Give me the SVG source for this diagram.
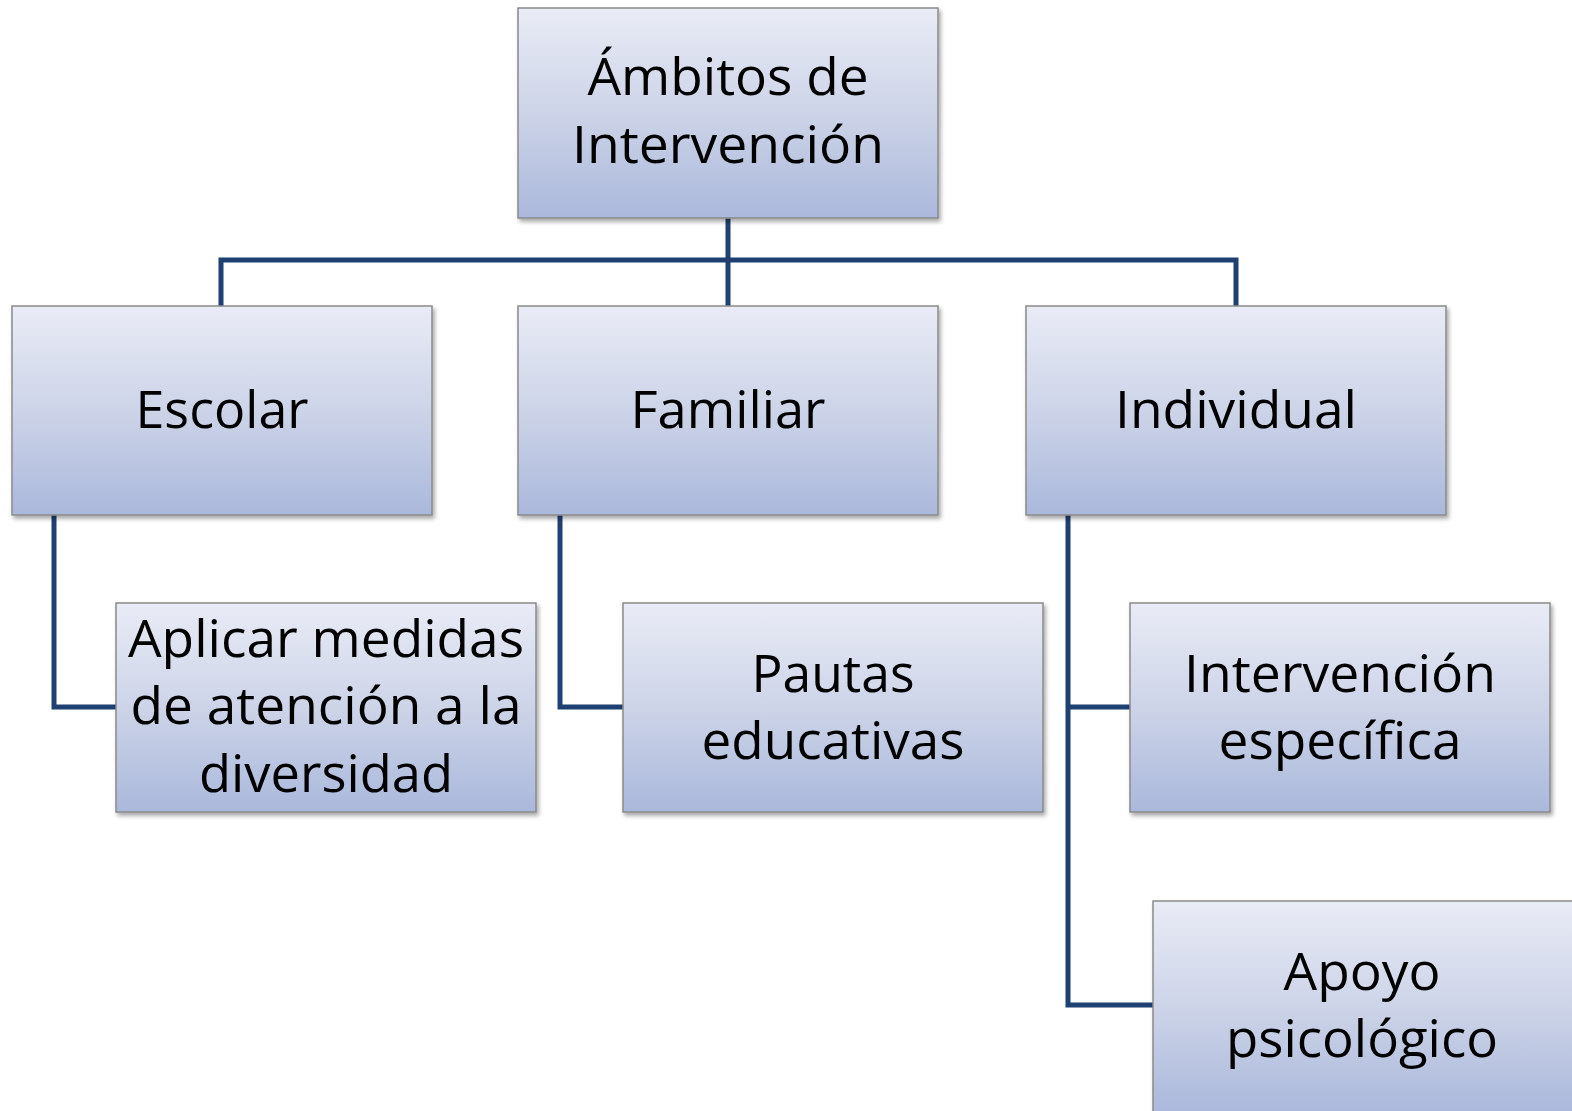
<svg xmlns="http://www.w3.org/2000/svg" width="1572" height="1111" viewBox="0 0 1572 1111">
<defs>
<linearGradient id="g" x1="0" y1="0" x2="0" y2="1">
<stop offset="0" stop-color="#E9ECF6"/>
<stop offset="0.5" stop-color="#CDD4E8"/>
<stop offset="1" stop-color="#AAB8DB"/>
</linearGradient>
<filter id="sh" x="-5%" y="-5%" width="112%" height="115%">
<feDropShadow dx="2" dy="3" stdDeviation="2" flood-color="#000" flood-opacity="0.35"/>
</filter>
</defs>
<style>
.box{fill:url(#g);stroke:#8A8A8A;stroke-width:1.5;filter:url(#sh)}
.t{font-family:"Open Sans","Noto Sans","Liberation Sans",sans-serif;font-size:51px;fill:#000;text-anchor:middle}
.c{fill:none;stroke:#1F4172;stroke-width:5;stroke-linejoin:miter}
</style>
<rect width="1572" height="1111" fill="#fff"/>
<g id="connectors">
<path class="c" d="M728 218V260M221 306V260H1236V306M728 260V306"/>
<path class="c" d="M54 515V707H116"/>
<path class="c" d="M560 515V707H623"/>
<path class="c" d="M1068 515V1005H1153M1068 707H1130"/>
</g>
<g id="n-root">
<rect class="box" x="518" y="8" width="420" height="210"/>
<text class="t" x="728" y="95" textLength="281" lengthAdjust="spacingAndGlyphs">Ámbitos de</text>
<text class="t" x="728" y="163" textLength="312" lengthAdjust="spacingAndGlyphs">Intervención</text>
</g>
<g id="n-escolar">
<rect class="box" x="12" y="306" width="420" height="209"/>
<text class="t" x="222" y="428" textLength="173" lengthAdjust="spacingAndGlyphs">Escolar</text>
</g>
<g id="n-familiar">
<rect class="box" x="518" y="306" width="420" height="209"/>
<text class="t" x="728" y="428" textLength="195" lengthAdjust="spacingAndGlyphs">Familiar</text>
</g>
<g id="n-individual">
<rect class="box" x="1026" y="306" width="420" height="209"/>
<text class="t" x="1236" y="428" textLength="242" lengthAdjust="spacingAndGlyphs">Individual</text>
</g>
<g id="n-aplicar">
<rect class="box" x="116" y="603" width="420" height="209"/>
<text class="t" x="326" y="657" textLength="396" lengthAdjust="spacingAndGlyphs">Aplicar medidas</text>
<text class="t" x="326" y="724" textLength="391" lengthAdjust="spacingAndGlyphs">de atención a la</text>
<text class="t" x="326" y="792" textLength="254" lengthAdjust="spacingAndGlyphs">diversidad</text>
</g>
<g id="n-pautas">
<rect class="box" x="623" y="603" width="420" height="209"/>
<text class="t" x="833" y="692" textLength="163" lengthAdjust="spacingAndGlyphs">Pautas</text>
<text class="t" x="833" y="759" textLength="263" lengthAdjust="spacingAndGlyphs">educativas</text>
</g>
<g id="n-intervencion">
<rect class="box" x="1130" y="603" width="420" height="209"/>
<text class="t" x="1340" y="692" textLength="312" lengthAdjust="spacingAndGlyphs">Intervención</text>
<text class="t" x="1340" y="759" textLength="243" lengthAdjust="spacingAndGlyphs">específica</text>
</g>
<g id="n-apoyo">
<rect class="box" x="1153" y="901" width="420" height="212"/>
<text class="t" x="1362" y="990" textLength="157" lengthAdjust="spacingAndGlyphs">Apoyo</text>
<text class="t" x="1362" y="1057" textLength="272" lengthAdjust="spacingAndGlyphs">psicológico</text>
</g>
</svg>
